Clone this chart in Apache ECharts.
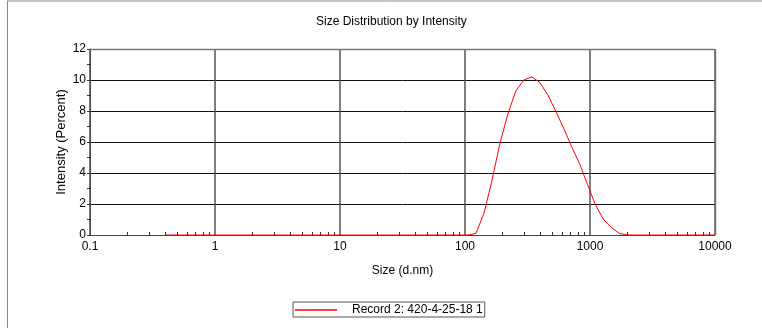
<!DOCTYPE html>
<html>
<head>
<meta charset="utf-8">
<script src="https://cdn.jsdelivr.net/npm/echarts@6/dist/echarts.min.js"></script>
<style>
  html, body { margin: 0; padding: 0; background: #fff; }
  #chart { width: 762px; height: 328px; }
</style>
</head>
<body>
<div id="chart"></div>
<script>
// Size classes (d.nm) of the 70 log-spaced bins
const sizes = [0.4, 0.4632, 0.5365, 0.6213, 0.7195, 0.8332, 0.9649, 1.117, 1.294, 1.499,
  1.736, 2.01, 2.328, 2.696, 3.122, 3.615, 4.187, 4.849, 5.615, 6.503,
  7.531, 8.721, 10.1, 11.7, 13.54, 15.69, 18.17, 21.04, 24.36, 28.21,
  32.67, 37.84, 43.82, 50.75, 58.77, 68.06, 78.82, 91.28, 105.7, 122.4,
  141.8, 164.2, 190.1, 220.2, 255, 295.3, 342, 396.1, 458.7, 531.2,
  615.1, 712.4, 825, 955.4, 1106, 1281, 1484, 1718, 1990, 2305,
  2669, 3091, 3580, 4145, 4801, 5560, 6439, 7456, 8635, 10000];

// Intensity (%) per bin
const intensity = [0, 0, 0, 0, 0, 0, 0, 0, 0, 0,
  0, 0, 0, 0, 0, 0, 0, 0, 0, 0,
  0, 0, 0, 0, 0, 0, 0, 0, 0, 0,
  0, 0, 0, 0, 0, 0, 0, 0, 0, 0.1,
  1.4, 3.5, 5.9, 7.8, 9.3, 10.0, 10.2, 9.85, 9.05, 8.0,
  6.9, 5.7, 4.6, 3.25, 1.95, 1.0, 0.48, 0.1, 0, 0,
  0, 0, 0, 0, 0, 0, 0, 0, 0, 0];

const seriesName = 'Record 2: 420-4-25-18 1';
const xMinorTicks = [0.2, 0.3, 0.4, 0.5, 0.6, 0.7, 0.8, 0.9,
  2, 3, 4, 5, 6, 7, 8, 9,
  20, 30, 40, 50, 60, 70, 80, 90,
  200, 300, 400, 500, 600, 700, 800, 900,
  2000, 3000, 4000, 5000, 6000, 7000, 8000, 9000];

const font = 'Liberation Sans, Arial, sans-serif';
const chart = echarts.init(document.getElementById('chart'));

chart.setOption({
  animation: false,
  backgroundColor: '#fff',
  title: {
    text: 'Size Distribution by Intensity',
    left: 311, top: 11,
    textStyle: { fontFamily: font, fontSize: 12, fontWeight: 'normal', color: '#000' }
  },
  legend: {
    left: 293, top: 302,
    padding: [2, 2, 1, 2],
    itemGap: 0,
    itemWidth: 42, itemHeight: 1.5,
    icon: 'rect',
    borderColor: '#555', borderWidth: 1,
    textStyle: { fontFamily: font, fontSize: 12, color: '#000', padding: [0, 0, 0, 10] },
    data: [seriesName]
  },
  grid: { left: 90, right: 47, top: 49, bottom: 93, containLabel: false },
  xAxis: [{
    type: 'log', logBase: 10, min: 0.1, max: 10000,
    name: 'Size (d.nm)', nameLocation: 'middle', nameGap: 30,
    nameTextStyle: { fontFamily: font, fontSize: 12, color: '#000' },
    axisLine: { show: true, lineStyle: { color: '#444', width: 1 } },
    axisTick: { show: false },
    axisLabel: {
      fontFamily: font, fontSize: 12, color: '#000', margin: 6,
      formatter: v => String(v)
    },
    splitLine: { show: true, lineStyle: { color: '#555', width: 1.5 } },
    minorTick: { show: false }
  }, {
    type: 'log', logBase: 10, min: 0.1, max: 10000,
    position: 'bottom',
    axisLine: { show: false },
    axisLabel: { show: false },
    splitLine: { show: false },
    axisTick: {
      show: true, inside: true, length: 3,
      customValues: xMinorTicks,
      lineStyle: { color: '#333', width: 1 }
    }
  }],
  yAxis: {
    type: 'value', min: 0, max: 12, interval: 2,
    name: 'Intensity (Percent)', nameLocation: 'middle', nameGap: 22,
    nameMoveOverlap: false,
    nameTextStyle: { fontFamily: font, fontSize: 13, color: '#000' },
    axisLine: { show: true, lineStyle: { color: '#444', width: 1 } },
    axisTick: { show: true, length: 3, lineStyle: { color: '#333' } },
    axisLabel: { fontFamily: font, fontSize: 12, color: '#000', margin: 4 },
    splitLine: { show: true, lineStyle: { color: '#111', width: 1 } },
    minorTick: { show: true, splitNumber: 2, length: 3, lineStyle: { color: '#333' } }
  },
  graphic: [
    { type: 'line', shape: { x1: 7, y1: 1, x2: 762, y2: 1 }, style: { stroke: '#888', lineWidth: 1 } },
    { type: 'line', shape: { x1: 7.5, y1: 1, x2: 7.5, y2: 328 }, style: { stroke: '#888', lineWidth: 1 } },
    { type: 'line', shape: { x1: 715.5, y1: 49, x2: 715.5, y2: 235 }, style: { stroke: '#777', lineWidth: 1.5 }, z: 10 },
    { type: 'line', shape: { x1: 90, y1: 49.5, x2: 715, y2: 49.5 }, style: { stroke: '#777', lineWidth: 1.5 }, z: 10 }
  ],
  series: [{
    name: seriesName,
    type: 'line',
    xAxisIndex: 0,
    data: sizes.map((s, i) => [s, intensity[i]]),
    showSymbol: false,
    smooth: false,
    lineStyle: { color: '#ff0000', width: 1 },
    itemStyle: { color: '#ff0000' },
    z: 5
  }]
});
</script>
</body>
</html>
